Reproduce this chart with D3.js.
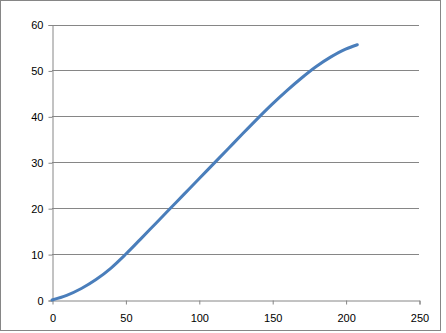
<!DOCTYPE html>
<html>
<head>
<meta charset="utf-8">
<script src="https://cdn.jsdelivr.net/npm/d3@7"></script>
<style>
    body { margin: 0; background: #fff; }
    svg text { font-family: "Liberation Sans", Arial, sans-serif; font-size: 11px; fill: #000; }
</style>
</head>
<body>
<script>
var xValues = [0, 10, 20, 30, 40, 50, 60, 70, 80, 90, 100, 110, 120, 130, 140, 150, 160, 170, 180, 190, 200, 208];
var yValues = [0, 1.0, 2.5, 4.45, 6.9, 9.9, 13.15, 16.45, 19.75, 23.05, 26.35, 29.65, 32.95, 36.25, 39.5, 42.65, 45.6, 48.35, 50.85, 52.95, 54.65, 55.6];
var xTicks = [0, 50, 100, 150, 200, 250];
var yTicks = [0, 10, 20, 30, 40, 50, 60];

var width = 446, height = 333;
var plotLeft = 52, plotRight = 419, plotTop = 24.5, plotBottom = 300;

var svg = d3.select('body').append('svg')
    .attr('width', width)
    .attr('height', height);

svg.append('rect')
    .attr('x', 0.5).attr('y', 0.5)
    .attr('width', 440).attr('height', 330)
    .attr('fill', '#fff')
    .attr('stroke', '#868686');

var x = d3.scaleLinear().domain([0, 250]).range([plotLeft, plotRight]);
var y = d3.scaleLinear().domain([0, 60]).range([plotBottom, plotTop]);

// gridlines
svg.append('g')
    .selectAll('line')
    .data(yTicks.slice(1))
    .enter().append('line')
    .attr('x1', plotLeft).attr('x2', plotRight)
    .attr('y1', function (d) { return Math.round(y(d)) + 0.5; })
    .attr('y2', function (d) { return Math.round(y(d)) + 0.5; })
    .attr('stroke', '#868686');

var yAxis = svg.append('g')
    .attr('transform', 'translate(' + (plotLeft + 0.5) + ',0.5)')
    .call(d3.axisLeft(y).tickValues(yTicks).tickSize(4).tickPadding(5));

var xAxis = svg.append('g')
    .attr('transform', 'translate(0.5,' + (plotBottom + 0.5) + ')')
    .call(d3.axisBottom(x).tickValues(xTicks).tickSize(4).tickPadding(10));

[xAxis, yAxis].forEach(function (g) {
    g.select('.domain').attr('stroke', '#868686');
    g.selectAll('.tick line').attr('stroke', '#868686');
    g.selectAll('text').attr('font-size', 11).attr('font-family', '"Liberation Sans", Arial, sans-serif').attr('fill', '#000');
});
xAxis.selectAll('.tick line').filter(function (d) { return d === 0; }).remove();

var line = d3.line()
    .x(function (d) { return x(d[0]); })
    .y(function (d) { return y(d[1]); })
    .curve(d3.curveMonotoneX);

svg.append('path')
    .datum(d3.zip(xValues, yValues))
    .attr('d', line)
    .attr('fill', 'none')
    .attr('stroke', '#4a7ebb')
    .attr('stroke-width', 3)
    .attr('stroke-linecap', 'round');
</script>
</body>
</html>
